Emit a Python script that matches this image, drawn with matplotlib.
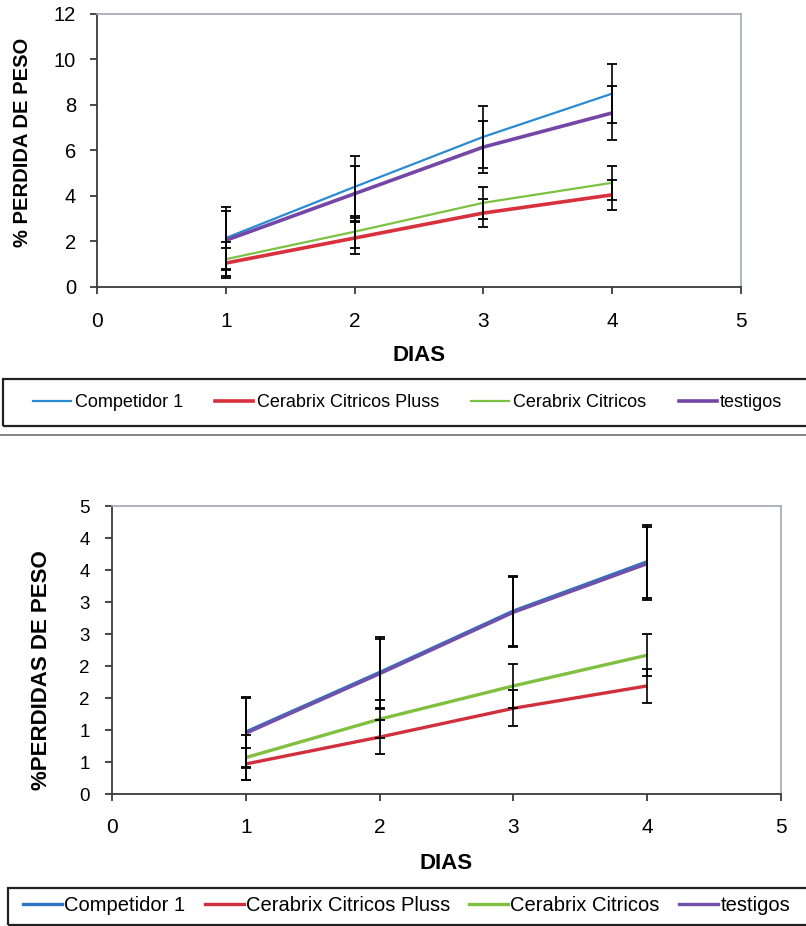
import matplotlib
matplotlib.use('Agg')
import matplotlib.pyplot as plt
from matplotlib.patches import Rectangle
from matplotlib.lines import Line2D
import numpy as np

plt.rcParams['font.family'] = ['Liberation Sans', 'DejaVu Sans']

dias = [1, 2, 3, 4]
series = ['Competidor 1', 'Cerabrix Citricos Pluss', 'Cerabrix Citricos', 'testigos']

# grafico de arriba
top_comp = [2.15, 4.4, 6.6, 8.5]
top_comp_err = [1.35, 1.35, 1.35, 1.3]
top_pluss = [1.05, 2.15, 3.25, 4.05]
top_pluss_err = [0.65, 0.7, 0.6, 0.67]
top_citr = [1.22, 2.43, 3.7, 4.58]
top_citr_err = [0.75, 0.7, 0.7, 0.75]
top_test = [2.05, 4.1, 6.15, 7.65]
top_test_err = [1.3, 1.2, 1.15, 1.2]

# grafico de abajo
bot_comp = [0.97, 1.9, 2.86, 3.63]
bot_comp_err = [0.55, 0.55, 0.55, 0.57]
bot_pluss = [0.47, 0.89, 1.34, 1.69]
bot_pluss_err = [0.25, 0.27, 0.28, 0.27]
bot_citr = [0.57, 1.17, 1.69, 2.17]
bot_citr_err = [0.35, 0.3, 0.34, 0.33]
bot_test = [0.95, 1.88, 2.84, 3.6]
bot_test_err = [0.55, 0.55, 0.55, 0.57]

bot_yticks = [0, 0.5, 1, 1.5, 2, 2.5, 3, 3.5, 4, 4.5]
bot_ylabels = ['0', '1', '1', '2', '2', '3', '3', '4', '4', '5']

top_colors = ['#2A8AD4', '#D8303C', '#7CC242', '#7447A6']
top_lw = [1.6, 2.6, 1.6, 2.6]
bot_colors = ['#2E74C2', '#D0303E', '#80C040', '#7050A8']
bot_lw = [2.4, 2.4, 2.4, 2.4]

fig = plt.figure(figsize=(8.06, 9.26), dpi=100)


def style_axes(ax, xtick_fs, ytick_fs, xpad, ypad):
    ax.set_xlim(0, 5)
    ax.set_xticks([0, 1, 2, 3, 4, 5])
    for s in ['left', 'bottom']:
        ax.spines[s].set_color('#3a3a3a')
        ax.spines[s].set_linewidth(1.3)
    for s in ['top', 'right']:
        ax.spines[s].set_color('#A0A8B0')
        ax.spines[s].set_linewidth(1.2)
    ax.tick_params(axis='x', direction='out', length=5, width=1.3,
                   color='#3a3a3a', labelsize=xtick_fs, pad=xpad)
    ax.tick_params(axis='y', direction='out', length=5, width=1.3,
                   color='#3a3a3a', labelsize=ytick_fs, pad=ypad)


def draw_series(ax, vals, errs, colors, lws):
    for v, c, lw in zip(vals, colors, lws):
        ax.plot(dias, v, color=c, lw=lw, solid_capstyle='butt', zorder=2)
    for v, e in zip(vals, errs):
        ax.errorbar(dias, v, yerr=e, fmt='none', ecolor='black',
                    elinewidth=1.2, capsize=3.5, capthick=1.3, zorder=3)


# arriba
ax1 = fig.add_axes([0.1203, 0.6901, 0.7990, 0.2948])
draw_series(ax1, [top_comp, top_pluss, top_citr, top_test],
            [top_comp_err, top_pluss_err, top_citr_err, top_test_err],
            top_colors, top_lw)
ax1.set_ylim(0, 12)
ax1.set_yticks([0, 2, 4, 6, 8, 10, 12])
style_axes(ax1, 15, 14.5, 13, 10)
ax1.set_xlabel('DIAS', fontsize=16, fontweight='bold', labelpad=10)
ax1.set_ylabel('% PERDIDA DE PESO', fontsize=14.5, fontweight='bold')
ax1.yaxis.set_label_coords(-0.101, 0.53)

# abajo
ax2 = fig.add_axes([0.1390, 0.1425, 0.8300, 0.3110])
draw_series(ax2, [bot_comp, bot_pluss, bot_citr, bot_test],
            [bot_comp_err, bot_pluss_err, bot_citr_err, bot_test_err],
            bot_colors, bot_lw)
ax2.set_ylim(0, 4.5)
ax2.set_yticks(bot_yticks)
ax2.set_yticklabels(bot_ylabels)
style_axes(ax2, 15, 13.5, 12, 11)
ax2.set_xlabel('DIAS', fontsize=16, fontweight='bold', labelpad=12)
ax2.set_ylabel('%PERDIDAS DE PESO', fontsize=16, fontweight='bold')
ax2.yaxis.set_label_coords(-0.090, 0.43)

# leyendas
h1 = [Line2D([], [], color=c, lw=lw) for c, lw in zip(top_colors, top_lw)]
fig.legend(h1, series, loc='center left', bbox_to_anchor=(0.041, 0.5653),
           ncol=4, frameon=False, fontsize=13, handlelength=2.1,
           handletextpad=0.2, columnspacing=1.8, borderpad=0, borderaxespad=0)
fig.patches.append(Rectangle((0.004, 0.5400), 1.1, 0.0508, transform=fig.transFigure,
                             fill=False, edgecolor='#222222', lw=1.6))
fig.add_artist(Line2D([0, 1], [0.5302, 0.5302], transform=fig.transFigure,
                      color='#707070', lw=1.2))

h2 = [Line2D([], [], color=c, lw=lw) for c, lw in zip(bot_colors, bot_lw)]
fig.legend(h2, series, loc='center left', bbox_to_anchor=(0.0285, 0.0225),
           ncol=4, frameon=False, fontsize=14.5, handlelength=1.95,
           handletextpad=0.1, columnspacing=0.95, borderpad=0, borderaxespad=0)
fig.patches.append(Rectangle((0.010, 0.001), 1.1, 0.040, transform=fig.transFigure,
                             fill=False, edgecolor='#222222', lw=1.6))

fig.savefig('out.png', dpi=100)
